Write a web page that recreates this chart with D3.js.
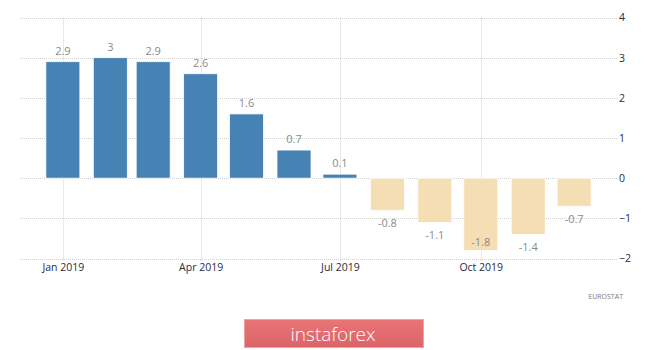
<!DOCTYPE html>
<html>
<head>
<meta charset="utf-8">
<script src="https://cdn.jsdelivr.net/npm/d3@7"></script>
<style>
  html, body { margin: 0; padding: 0; background: #ffffff; }
  svg { display: block; }
</style>
</head>
<body>
<svg id="chart" width="665" height="350"></svg>
<script>
// Monthly values, 2019
const months = ["2019-01", "2019-02", "2019-03", "2019-04", "2019-05", "2019-06",
                "2019-07", "2019-08", "2019-09", "2019-10", "2019-11", "2019-12"];
const values = [2.9, 3, 2.9, 2.6, 1.6, 0.7, 0.1, -0.8, -1.1, -1.8, -1.4, -0.7];
const valueLabels = ["2.9", "3", "2.9", "2.6", "1.6", "0.7", "0.1", "-0.8", "-1.1", "-1.8", "-1.4", "-0.7"];
const yTicks = [4, 3, 2, 1, 0, -1, -2];
const xTickDates = ["2019-01", "2019-04", "2019-07", "2019-10"];
const xTickLabels = ["Jan 2019", "Apr 2019", "Jul 2019", "Oct 2019"];
const sourceLabel = "EUROSTAT";
const bannerLabel = "instaforex";

const parse = d3.timeParse("%Y-%m");
const svg = d3.select("#chart");

const plotLeft = 20, plotRight = 617, plotTop = 17.5, plotBottom = 258.5;

const x = d3.scaleTime()
  .domain([new Date(2018, 11, 4), new Date(2019, 11, 29)])
  .range([plotLeft, plotRight]);

const y = d3.scaleLinear()
  .domain([-2, 4])
  .range([plotBottom, plotTop]);

const barWidth = 34;

// horizontal grid
svg.append("g")
  .selectAll("line")
  .data(yTicks)
  .join("line")
  .attr("x1", plotLeft).attr("x2", plotRight)
  .attr("y1", d => Math.round(y(d)) + 0.5).attr("y2", d => Math.round(y(d)) + 0.5)
  .attr("stroke", "#d0d0d0")
  .attr("stroke-width", 1)
  .attr("stroke-dasharray", "1,1");

// vertical grid at quarter starts
svg.append("g")
  .selectAll("line")
  .data(xTickDates)
  .join("line")
  .attr("x1", d => Math.round(x(parse(d))) + 0.5).attr("x2", d => Math.round(x(parse(d))) + 0.5)
  .attr("y1", plotTop).attr("y2", plotBottom + 2)
  .attr("stroke", "#d0d0d0")
  .attr("stroke-width", 1)
  .attr("stroke-dasharray", "1,1");

// right-hand y axis labels
const yAxis = d3.axisRight(y).tickValues(yTicks).tickSize(0).tickPadding(2).tickFormat(d3.format("d"));
const yg = svg.append("g")
  .attr("transform", `translate(${plotRight},0)`)
  .call(yAxis);
yg.select(".domain").remove();
yg.selectAll("text")
  .attr("fill", "#2b2b3a")
  .style("font-family", "'Open Sans', sans-serif")
  .style("font-size", "10.5px");

// bottom axis labels
const xAxis = d3.axisBottom(x)
  .tickValues(xTickDates.map(parse))
  .tickSize(0)
  .tickPadding(5)
  .tickFormat((d, i) => xTickLabels[i]);
const xg = svg.append("g")
  .attr("transform", `translate(0,${plotBottom})`)
  .call(xAxis);
xg.select(".domain").remove();
xg.selectAll("text")
  .attr("fill", "#2b2b3a")
  .style("font-family", "'Open Sans', sans-serif")
  .style("font-size", "10.5px");

// bars
const data = months.map((m, i) => ({ date: parse(m), value: values[i], label: valueLabels[i] }));

svg.append("g")
  .selectAll("rect")
  .data(data)
  .join("rect")
  .attr("x", d => x(d.date) - barWidth / 2)
  .attr("width", barWidth)
  .attr("y", d => y(Math.max(0, d.value)))
  .attr("height", d => Math.abs(y(d.value) - y(0)))
  .attr("fill", d => d.value >= 0 ? "#4682b4" : "#f5deb3")
  .attr("stroke", "#ffffff")
  .attr("stroke-width", 0.8);

// value labels: above positive bars, below negative bars,
// pulled inside the bar when there is no room below the plot area
function labelY(d) {
  if (d.value >= 0) return y(d.value) - 7;
  const below = y(d.value) + 17;
  return below > plotBottom ? y(d.value) - 4 : below;
}

svg.append("g")
  .selectAll("text")
  .data(data)
  .join("text")
  .attr("x", d => x(d.date))
  .attr("y", labelY)
  .attr("text-anchor", "middle")
  .attr("fill", "#8a8a8a")
  .style("font-family", "'Open Sans', sans-serif")
  .style("font-size", "11px")
  .text(d => d.label);

// source note
svg.append("text")
  .attr("x", 623)
  .attr("y", 298.5)
  .attr("text-anchor", "end")
  .attr("fill", "#7a7a85")
  .style("font-family", "'Open Sans', sans-serif")
  .style("font-size", "7px")
  .text(sourceLabel);

// banner
const grad = svg.append("defs").append("linearGradient")
  .attr("id", "bannerGrad")
  .attr("x1", 0).attr("y1", 0).attr("x2", 0).attr("y2", 1);
grad.append("stop").attr("offset", "0%").attr("stop-color", "#e87476");
grad.append("stop").attr("offset", "100%").attr("stop-color", "#dc6468");

svg.append("rect")
  .attr("x", 244.5).attr("y", 319.5)
  .attr("width", 179).attr("height", 28)
  .attr("fill", "url(#bannerGrad)")
  .attr("stroke", "#e9a3a4")
  .attr("stroke-width", 1);

svg.append("text")
  .attr("x", 333)
  .attr("y", 341)
  .attr("text-anchor", "middle")
  .attr("fill", "#ffffff")
  .style("font-family", "'Open Sans', sans-serif")
  .style("font-weight", 300)
  .style("font-size", "19px")
  .text(bannerLabel);
</script>
</body>
</html>
